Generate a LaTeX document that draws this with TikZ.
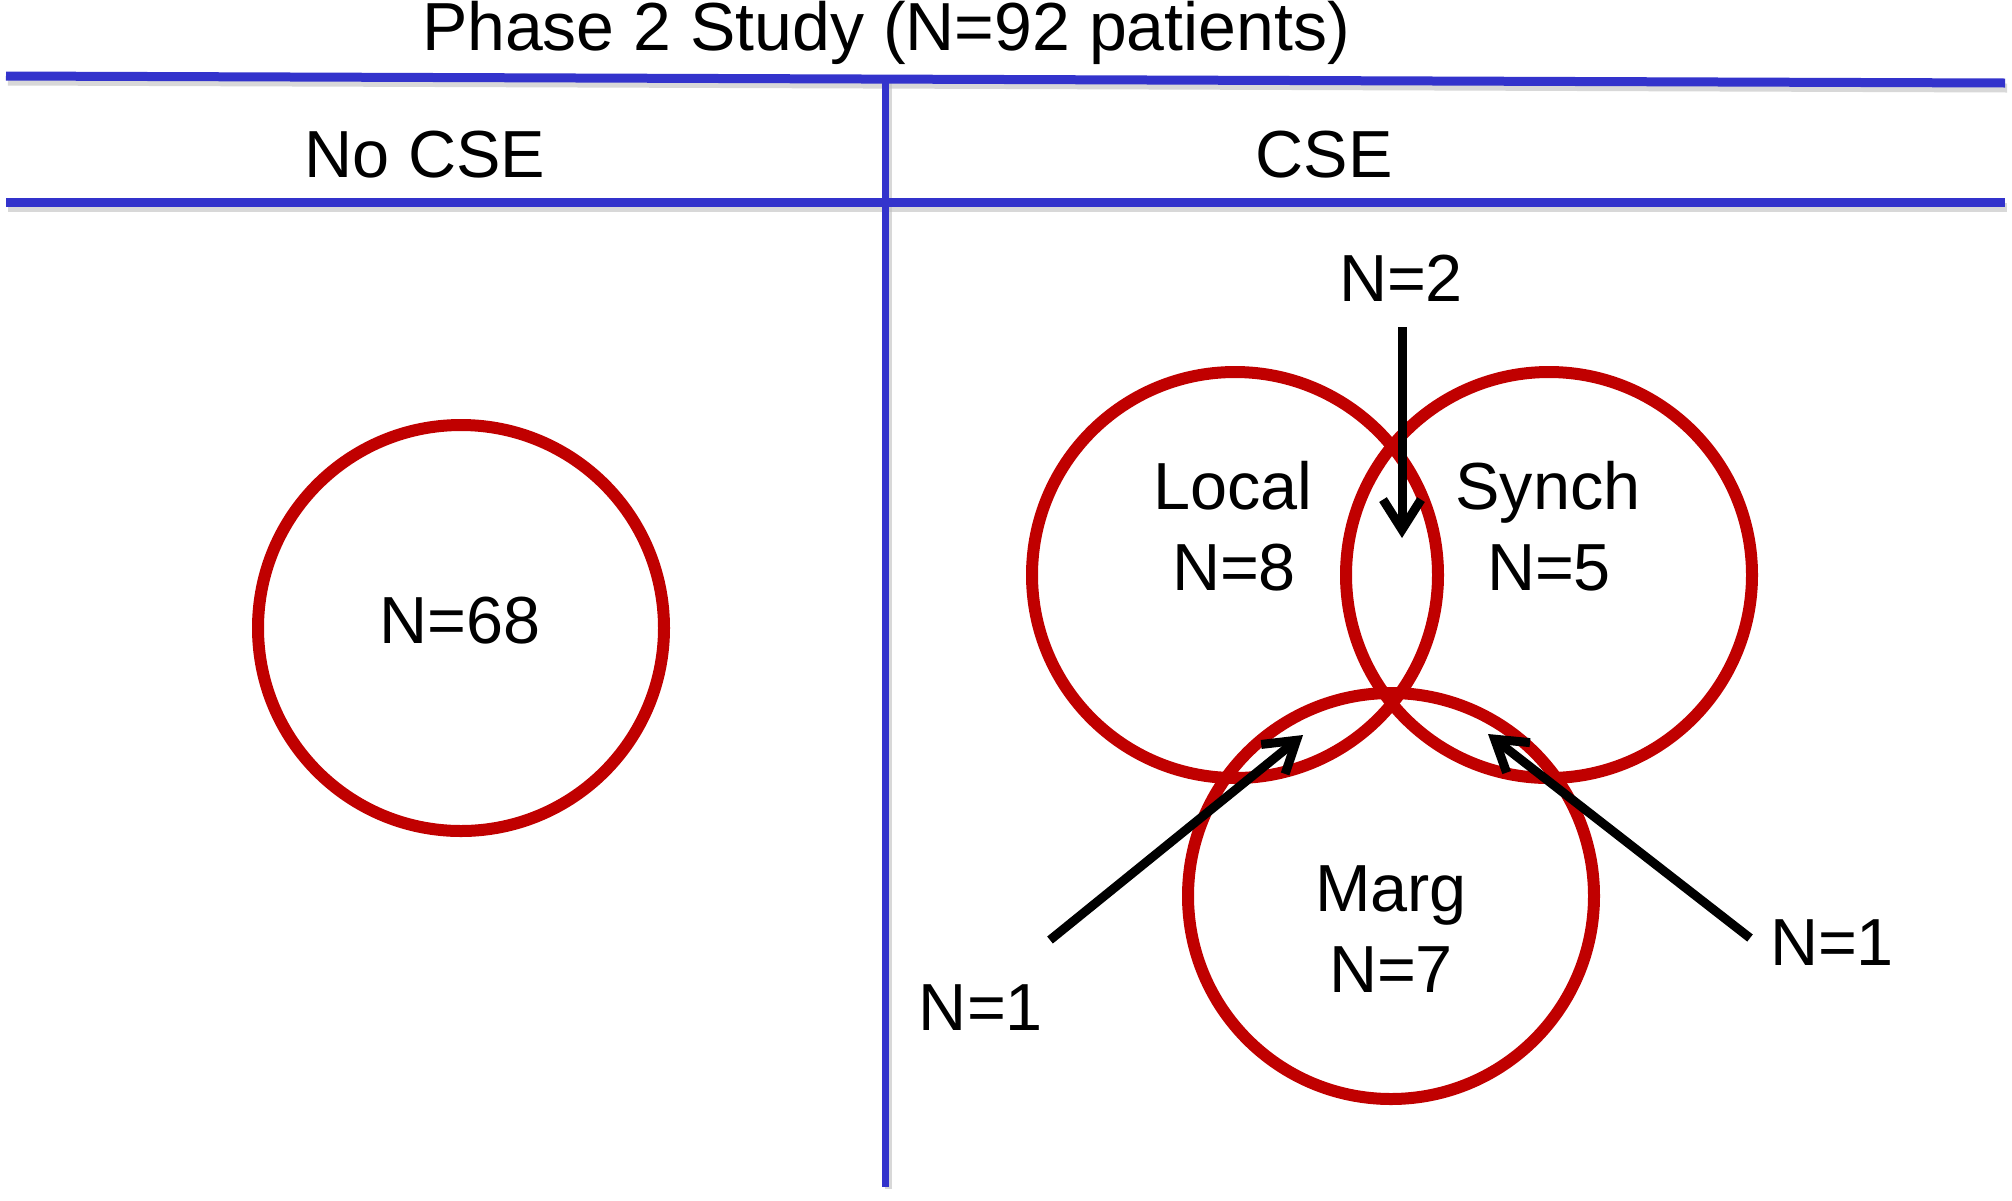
\documentclass[tikz,border=0pt]{standalone}
\usepackage{fontspec}
\setmainfont{Liberation Sans}
\usetikzlibrary{arrows.meta}
\definecolor{vred}{RGB}{192,0,0}
\definecolor{tblue}{RGB}{51,51,204}
\begin{document}
\begin{tikzpicture}[x=0.5pt,y=-0.5pt,
  lbl/.style={inner sep=0pt,anchor=base,font=\fontsize{33.3}{40}\selectfont},
  ttl/.style={inner sep=0pt,anchor=base,font=\fontsize{34}{40}\selectfont},
  rule/.style={tblue,line width=4.5pt},
  shade/.style={black!25,line width=4.5pt,opacity=0.6},
  venn/.style={vred,line width=6pt},
  ptr/.style={black,line width=4.5pt,-{Straight Barb[length=15pt,width=19pt]}}]
\useasboundingbox (0,0) rectangle (2012,1200);
\fill[white] (0,0) rectangle (2012,1200);
% table rules
\coordinate (tl) at (6,76);
\coordinate (tr) at (2005,83);
\coordinate (ml) at (6,202);
\coordinate (mr) at (2005,202);
\coordinate (vt) at (885,80);
\coordinate (vb) at (885,1187);
\draw[shade] ([shift={(2,5)}]tl) -- ([shift={(2,5)}]tr);
\draw[shade] ([shift={(2,5)}]ml) -- ([shift={(2,5)}]mr);
\draw[shade,line width=3.5pt] ([shift={(3,2)}]vt) -- ([shift={(3,2)}]vb);
\draw[rule] (tl) -- (tr);
\draw[rule] (ml) -- (mr);
\draw[rule,line width=3.5pt] (vt) -- (vb);
% headings
\node[ttl] (title) at (886,50) {Phase 2 Study (N=92 patients)};
\node[lbl] (nocse) at (425,177) {No CSE};
\node[lbl] (cse) at (1324,177) {CSE};
% circles
\draw[venn] (461,628) circle[radius=203];
\draw[venn] (1235,575) circle[radius=203];
\draw[venn] (1549,575) circle[radius=203];
\draw[venn] (1391,896) circle[radius=203];
% circle labels
\node[lbl] (n68) at (460,643) {N=68};
\node[lbl] (local) at (1233,509) {Local};
\node[lbl] (n8) at (1234,590) {N=8};
\node[lbl] (synch) at (1548,509) {Synch};
\node[lbl] (n5) at (1549,590) {N=5};
\node[lbl] (marg) at (1391,911) {Marg};
\node[lbl] (n7) at (1391,992) {N=7};
% overlap labels
\node[lbl] (n2) at (1401,301) {N=2};
\node[lbl] (n1l) at (981,1030) {N=1};
\node[lbl] (n1r) at (1832,965) {N=1};
% arrows
\coordinate (a2s) at (1402,327);
\coordinate (a2e) at (1402,538);
\coordinate (als) at (1050,940);
\coordinate (ale) at (1303,735);
\coordinate (ars) at (1750,938);
\coordinate (are) at (1488,734);
\draw[ptr] (a2s) -- (a2e);
\draw[ptr] (als) -- (ale);
\draw[ptr] (ars) -- (are);
\end{tikzpicture}
\end{document}
